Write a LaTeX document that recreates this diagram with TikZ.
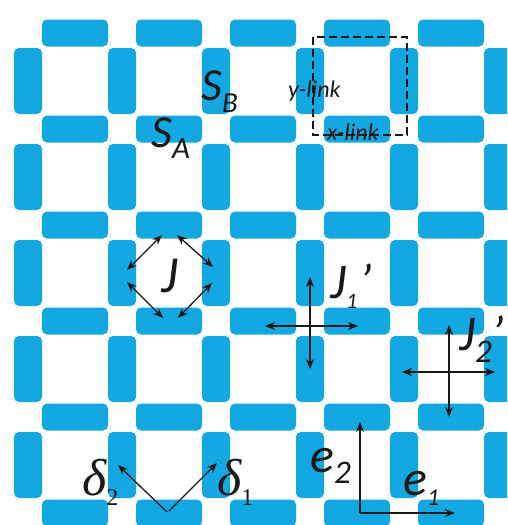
\documentclass[tikz,border=0pt]{standalone}
\usepackage{fontspec}
\newfontfamily\calib{Carlito}
\newfontfamily\serf{Liberation Serif}
\usetikzlibrary{arrows.meta,calc}
\definecolor{barblue}{RGB}{20,168,226}
\begin{document}
\begin{tikzpicture}[x=1pt,y=-1pt,
  hbar/.style={fill=barblue,rounded corners=5pt,minimum width=66pt,minimum height=27pt,inner sep=0pt,draw=none},
  vbar/.style={fill=barblue,rounded corners=5pt,minimum width=28pt,minimum height=66pt,inner sep=0pt,draw=none},
  dbl/.style={{Stealth[length=10pt,width=8pt]}-{Stealth[length=10pt,width=8pt]},line width=1.3pt,black!90},
  sgl/.style={-{Stealth[length=10pt,width=8pt]},line width=1.3pt,black!90},
  lab/.style={anchor=base west,inner sep=0pt,font=\calib\itshape,text=black!90},
  glab/.style={anchor=base west,inner sep=0pt,font=\serf\itshape,text=black!90}
]
\useasboundingbox (0,0) rectangle (507,525);
\clip (0,0) rectangle (507,525);
% lattice of links
\foreach \i in {0,...,4} \foreach \j in {0,...,5}
  \node[hbar] (h-\i-\j) at ({75+94*\i},{33+96*\j}) {};
\foreach \i in {0,...,5} \foreach \j in {0,...,4}
  \node[vbar] (v-\i-\j) at ({28+94*\i},{81+96*\j}) {};

% dashed unit cell
\coordinate (dc1) at (313,37);
\coordinate (dc2) at (407,135);
\draw[dash pattern=on 8pt off 4pt,line width=1.1pt,black!90] (dc1) rectangle (dc2);
\node[lab,font=\calib\itshape\fontsize{24}{24}\selectfont] (ylink) at (288,97) {y-link};
\node[lab,font=\calib\itshape\fontsize{24}{24}\selectfont] (xlink) at (327,140) {x-link};

% S labels
\node[lab] (sb) at (201,100) {\fontsize{46}{46}\selectfont S\raisebox{-12pt}{\fontsize{29}{29}\selectfont B}};
\node[lab] (sa) at (151,147) {\fontsize{46}{46}\selectfont S\raisebox{-11pt}{\fontsize{31}{31}\selectfont A}};

% J diamond
\coordinate (jt1) at (162,235);
\coordinate (jt2) at (177,235);
\coordinate (jl1) at (127,270);
\coordinate (jl2) at (127,282);
\coordinate (jr1) at (213,267);
\coordinate (jr2) at (212,283);
\coordinate (jb1) at (163,318);
\coordinate (jb2) at (178,318);
\draw[dbl] (jt1) -- (jl1);
\draw[dbl] (jt2) -- (jr1);
\draw[dbl] (jl2) -- (jb1);
\draw[dbl] (jr2) -- (jb2);
\node[lab] (jlab) at (161,292) {\fontsize{52}{52}\selectfont J};

% J1' cross
\draw[dbl] ($(v-3-2.center)+(0,4)$) -- (v-3-3.center);
\draw[dbl] ($(h-2-3.center)+(2,5)$) -- ($(h-3-3.center)+(1,5)$);
\node[lab] (j1lab) at (330,298) {\fontsize{50}{50}\selectfont J\raisebox{-10pt}{\fontsize{22}{22}\selectfont 1}\hspace{2pt}’};

% J2' cross
\draw[dbl] ($(h-4-3.center)+(-2,4)$) -- ($(h-4-4.center)+(-2,0)$);
\draw[dbl] ($(v-4-3.center)+(-2,3)$) -- ($(v-5-3.center)+(-3,3)$);
\node[lab] (j2lab) at (459,350) {\fontsize{50}{50}\selectfont J\raisebox{-12pt}{\fontsize{33}{33}\selectfont 2}’};

% basis vectors
\coordinate (eo) at ($(h-3-5.center)+(3,0)$);
\draw[sgl] (eo) -- ($(h-3-4.center)+(3,5)$);
\draw[sgl] (eo) -- ($(h-4-5.center)+(4,0)$);
\node[lab] (e2lab) at (310,472) {\fontsize{50}{50}\selectfont e\raisebox{-11pt}{\fontsize{33}{33}\selectfont 2}};
\node[lab] (e1lab) at (403,495) {\fontsize{50}{50}\selectfont e\raisebox{-10pt}{\fontsize{24}{24}\selectfont 1}};

% delta vectors
\coordinate (dlo) at ($(h-1-5.center)+(-2,-1)$);
\coordinate (dro) at ($(h-1-5.center)+(0,-2)$);
\draw[sgl] (dlo) -- ($(v-1-4.center)+(-4,0)$);
\draw[sgl] (dro) -- ($(v-2-4.center)+(1,-2)$);
\node[glab] (d2lab) at (82,495) {\fontsize{52}{52}\selectfont δ\raisebox{-10pt}{\upshape\fontsize{24}{24}\selectfont 2}};
\node[glab] (d1lab) at (217,495) {\fontsize{52}{52}\selectfont δ\raisebox{-10pt}{\upshape\fontsize{24}{24}\selectfont 1}};
\end{tikzpicture}
\end{document}
